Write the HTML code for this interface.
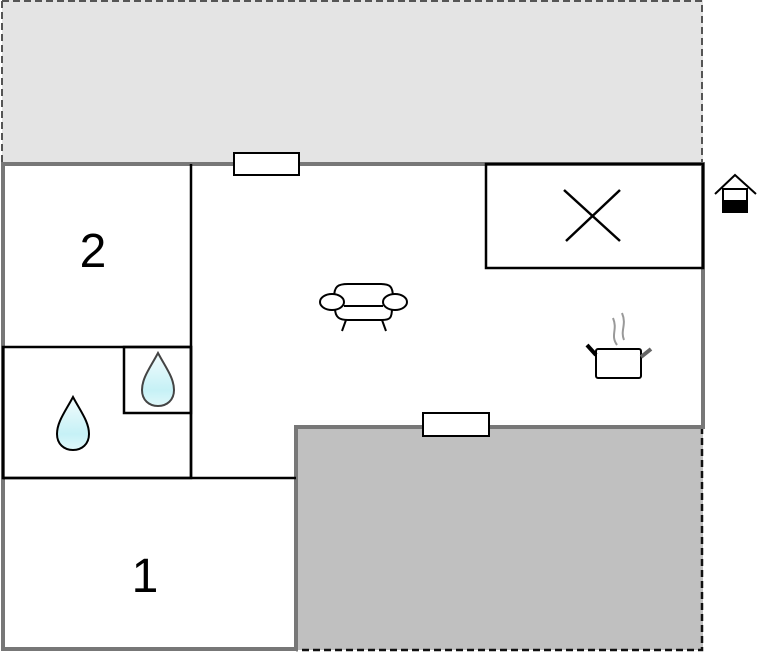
<!DOCTYPE html>
<html><head><style>body{margin:0;background:#fff}svg{display:block}</style></head><body>
<svg width="757" height="652" viewBox="0 0 757 652" xmlns="http://www.w3.org/2000/svg">
<defs><linearGradient id="d" x1="0" y1="0" x2="0" y2="1"><stop offset="0" stop-color="#f2fcfd"/><stop offset="0.7" stop-color="#c6f1f6"/><stop offset="1" stop-color="#e0f8fa"/></linearGradient></defs>
<rect x="2" y="0" width="701" height="164" fill="#e4e4e4"/>
<path d="M2 1 H702 V164" fill="none" stroke="#555" stroke-width="2" stroke-dasharray="7,4"/>
<path d="M2 1 V164" fill="none" stroke="#555" stroke-width="2" stroke-dasharray="7,4"/>
<rect x="296" y="427" width="407" height="223" fill="#c0c0c0"/>
<path d="M702 427 V650 H296" fill="none" stroke="#111" stroke-width="2.5" stroke-dasharray="7,4"/>
<path d="M3 164 H703 V427 H296 V649 H3 Z" fill="none" stroke="#777" stroke-width="4"/>
<g stroke="#000" stroke-width="2.5" fill="none">
<path d="M191 164 V478 M3 478 H296"/>
<rect x="3" y="347" width="188" height="131"/>
<rect x="124" y="347" width="67" height="66"/>
<rect x="486" y="164" width="217" height="104"/>
<path d="M564 190 L620 241 M620 190 L566 241"/>
</g>
<rect x="234" y="153" width="65" height="22" fill="#fff" stroke="#000" stroke-width="2"/>
<rect x="423" y="413" width="66" height="23" fill="#fff" stroke="#000" stroke-width="2"/>
<path d="M158 353 C150 368 142 378 142 390 C142 400 149 406 158 406 C167 406 174 400 174 390 C174 378 166 368 158 353 Z" fill="url(#d)" stroke="#444" stroke-width="2"/>
<path d="M73 397 C65 412 57 422 57 434 C57 444 64 450 73 450 C82 450 89 444 89 434 C89 422 81 412 73 397 Z" fill="url(#d)" stroke="#000" stroke-width="2"/>
<text x="93" y="267" font-family="Liberation Sans, sans-serif" font-size="48" text-anchor="middle">2</text>
<text x="145" y="592" font-family="Liberation Sans, sans-serif" font-size="48" text-anchor="middle">1</text>
<g fill="#fff" stroke="#000" stroke-width="2">
<path d="M334 298 C334 286 338 284 348 284 H380 C390 284 393 286 393 298"/>
<path d="M335 308 C335 318 340 320 348 320 H382 C390 320 392 318 392 308"/>
<ellipse cx="332" cy="302" rx="12" ry="8"/>
<ellipse cx="395" cy="302" rx="12" ry="8"/>
<path d="M344 306 H383 M346 320 L342 331 M382 320 L386 331" fill="none"/>
</g>
<g>
<rect x="596" y="349" width="45" height="29" rx="2" fill="#fff" stroke="#000" stroke-width="2"/>
<path d="M596 355 L587 345" stroke="#000" stroke-width="4"/>
<path d="M641 357 L651 349" stroke="#666" stroke-width="4"/>
<path d="M617 345 C610 335 618 330 613 318 M624 340 C620 330 627 325 622 313" fill="none" stroke="#999" stroke-width="2"/>
</g>
<g>
<path d="M715 194 L735 175 L756 194" fill="none" stroke="#000" stroke-width="2"/>
<rect x="723" y="189" width="24" height="23" fill="#fff" stroke="#000" stroke-width="2"/>
<rect x="723" y="200" width="24" height="12" fill="#000"/>
</g>
</svg>
</body></html>
